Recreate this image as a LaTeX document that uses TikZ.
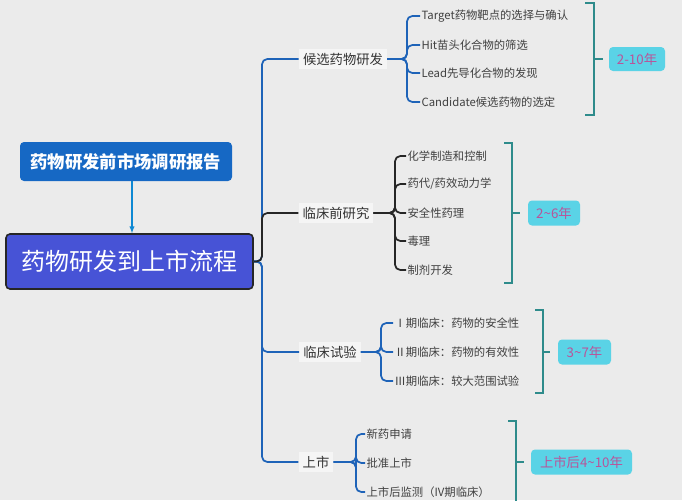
\documentclass[tikz,border=0pt]{standalone}
\usepackage{fontspec}
\setmainfont{Noto Sans CJK SC}
\definecolor{bgc}{HTML}{EBEBEB}
\definecolor{topc}{HTML}{1668C4}
\definecolor{mainc}{HTML}{4753D6}
\definecolor{linec}{HTML}{1E63B8}
\definecolor{yrc}{HTML}{5AD3E6}
\definecolor{yrt}{HTML}{B8559A}
\definecolor{tlc}{HTML}{2E8B8B}
\begin{document}
\begin{tikzpicture}[x=0.75pt,y=-0.75pt,
  lv1/.style={fill=black!4,inner sep=3pt,font=\fontsize{10}{12}\selectfont,text=black!80},
  leaf/.style={anchor=west,inner sep=1pt,font=\fontsize{8.5}{10}\selectfont,text=black!75},
  yr/.style={fill=yrc,rounded corners=3pt,font=\fontsize{10}{12}\selectfont,text=yrt,inner sep=0pt},
  bl/.style={draw=linec,line width=1.3pt,rounded corners=4pt},
  bk/.style={draw=black!85,line width=1.3pt,rounded corners=4pt},
  tl/.style={draw=tlc,line width=1pt}]
\fill[bgc] (0,0) rectangle (682,500);
\useasboundingbox (0,0) rectangle (682,500);
% top boxes
\node[fill=topc,rounded corners=3pt,minimum width=212*0.75pt,minimum height=39*0.75pt,text=white,font=\fontsize{13}{15}\selectfont\bfseries] (top) at (126,161.5) {药物研发前市场调研报告};
\node[fill=mainc,draw=black!85,line width=1.2pt,rounded corners=3pt,minimum width=247*0.75pt,minimum height=55*0.75pt,text=white,font=\fontsize{18}{20}\selectfont] (main) at (129.5,261.5) {药物研发到上市流程};
\draw[-latex,cyan!70!blue,line width=0.8pt] (top.south -| 132,0) -- (main.north -| 132,0);
% level 1
\node[lv1] (a) at (343,59) {候选药物研发};
\node[lv1] (b) at (336,213) {临床前研究};
\node[lv1] (c) at (330,352) {临床试验};
\node[lv1] (d) at (316,462) {上市};
\coordinate (t) at (262,0);
\draw[bl] (main.east) -- (main.east -| t) |- (a.west);
\draw[bl] (main.east) -- (main.east -| t) |- (c.west);
\draw[bl] (main.east) -- (main.east -| t) |- (d.west);
\draw[bk] (main.east) -- (main.east -| t) |- (b.west);
% group a
\node[leaf] (a1) at (420,16) {Target药物靶点的选择与确认};
\node[leaf] (a2) at (420,45) {Hit苗头化合物的筛选};
\node[leaf] (a3) at (420,73) {Lead先导化合物的发现};
\node[leaf] (a4) at (420,102) {Candidate候选药物的选定};
\coordinate (ba) at (407,0);
\foreach \n in {a1,a2,a3,a4} \draw[bl] (a.east) -- (a.east -| ba) |- (\n.west);
% group b
\node[leaf] (b1) at (406,156) {化学制造和控制};
\node[leaf] (b2) at (406,184) {药代/药效动力学};
\node[leaf] (b3) at (406,213) {安全性药理};
\node[leaf] (b4) at (406,241) {毒理};
\node[leaf] (b5) at (406,270) {制剂开发};
\coordinate (bb) at (395,0);
\foreach \n in {b1,b2,b3,b4,b5} \draw[bk] (b.east) -- (b.east -| bb) |- (\n.west);
% group c
\node[leaf] (c1) at (393,323) {Ⅰ期临床：药物的安全性};
\node[leaf] (c2) at (393,352) {Ⅱ期临床：药物的有效性};
\node[leaf] (c3) at (393,381) {Ⅲ期临床：较大范围试验};
\coordinate (bc) at (381,0);
\foreach \n in {c1,c2,c3} \draw[bl] (c.east) -- (c.east -| bc) |- (\n.west);
% group d
\node[leaf] (d1) at (365,434) {新药申请};
\node[leaf] (d2) at (365,463) {批准上市};
\node[leaf] (d3) at (365,492) {上市后监测（IV期临床）};
\coordinate (bd) at (356,0);
\foreach \n in {d1,d2,d3} \draw[bl] (d.east) -- (d.east -| bd) |- (\n.west);
% year labels and brackets
\node[yr,minimum width=56*0.75pt,minimum height=24*0.75pt] (ya) at (637,59) {2-10年};
\draw[tl] (585,3) -- (594,3) -- (594,115) -- (585,115);
\draw[tl] (594,59) -- ++(9,0);
\node[yr,minimum width=52*0.75pt,minimum height=25*0.75pt] (yb) at (554,213) {2\string~6年};
\draw[tl] (504,143) -- (512,143) -- (512,283) -- (504,283);
\draw[tl] (512,213) -- ++(8,0);
\node[yr,minimum width=53*0.75pt,minimum height=25*0.75pt] (yc) at (584.5,352) {3\string~7年};
\draw[tl] (535,310) -- (543,310) -- (543,393) -- (535,393);
\draw[tl] (543,352) -- ++(7,0);
\node[yr,minimum width=101*0.75pt,minimum height=25*0.75pt] (yd) at (581.5,462) {上市后4\string~10年};
\draw[tl] (508,421) -- (516,421) -- (516,505);
\draw[tl] (516,462) -- ++(8,0);
\end{tikzpicture}
\end{document}
